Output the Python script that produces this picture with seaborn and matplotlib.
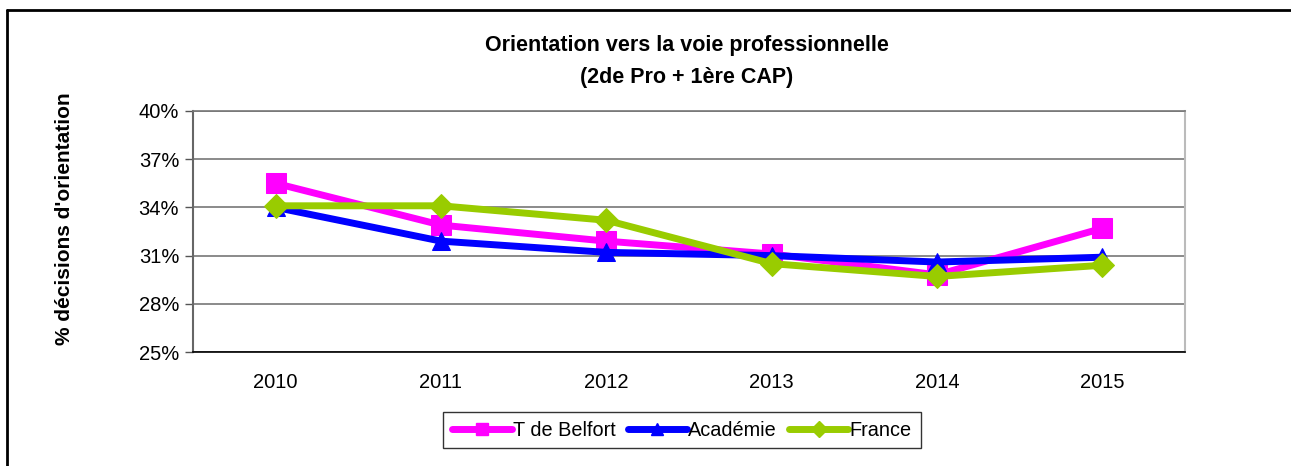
import numpy as np
import pandas as pd
import matplotlib
matplotlib.use("Agg")
import matplotlib.pyplot as plt
from matplotlib.ticker import FixedLocator, FuncFormatter
from matplotlib.lines import Line2D
import seaborn as sns

# data
years = ["2010", "2011", "2012", "2013", "2014", "2015"]
belfort = [35.5, 32.9, 31.9, 31.1, 29.8, 32.7]
academie = [34.0, 31.9, 31.2, 31.0, 30.6, 30.9]
france = [34.1, 34.1, 33.2, 30.5, 29.7, 30.4]
series_names = ["T de Belfort", "Académie", "France"]
y_ticks = [25, 28, 31, 34, 37, 40]

colors = {"T de Belfort": "#FF00FF", "Académie": "#0000FF", "France": "#99CC00"}
markers = {"T de Belfort": "s", "Académie": "^", "France": "D"}
msizes = {"T de Belfort": 14, "Académie": 13.5, "France": 12.5}

sns.set_style("white")
plt.rcParams['font.family'] = ['Liberation Sans', 'DejaVu Sans']
plt.rcParams['text.color'] = 'black'
plt.rcParams['axes.labelcolor'] = 'black'
plt.rcParams['xtick.color'] = 'black'
plt.rcParams['ytick.color'] = 'black'

df = pd.DataFrame({
    "x": list(range(len(years))) * 3,
    "value": belfort + academie + france,
    "serie": [series_names[0]] * 6 + [series_names[1]] * 6 + [series_names[2]] * 6,
})

fig = plt.figure(figsize=(12.91, 4.66), dpi=100)
ax = fig.add_axes([193 / 1291, 1 - 352 / 466, (1185 - 193) / 1291, (352 - 111) / 466])

for name in series_names:
    sub = df[df["serie"] == name]
    sns.lineplot(data=sub, x="x", y="value", ax=ax, color=colors[name],
                 linewidth=5, marker=markers[name], markersize=msizes[name],
                 markeredgecolor=colors[name], label=name, legend=False)

ax.set_xlim(-0.5, len(years) - 0.5)
ax.set_ylim(25, 40)

ax.yaxis.set_major_locator(FixedLocator(y_ticks))
ax.yaxis.set_major_formatter(FuncFormatter(lambda v, p: f"{v:.0f}%"))
ax.yaxis.grid(True, color="#777777", linewidth=1.2)
ax.set_axisbelow(True)

ax.set_xticks(range(len(years)))
ax.set_xticklabels(years)
ax.set_xticks(np.arange(-0.5, len(years), 1.0), minor=True)
ax.tick_params(axis="x", which="major", length=0, pad=15, labelsize=14.5)
ax.tick_params(axis="x", which="minor", length=6, width=1, color="black", direction="out")
ax.tick_params(axis="y", which="major", length=6, width=1, color="#555555",
               direction="out", labelsize=14.5, pad=4, left=True)

for side in ["left", "top", "right", "bottom"]:
    ax.spines[side].set_visible(True)
ax.spines["left"].set_color("#666666")
ax.spines["left"].set_linewidth(1.5)
ax.spines["bottom"].set_color("black")
ax.spines["bottom"].set_linewidth(1.2)
ax.spines["top"].set_color("#777777")
ax.spines["top"].set_linewidth(1.2)
ax.spines["right"].set_color("#bbbbbb")
ax.spines["right"].set_linewidth(1.5)

ax.set_xlabel("")
ax.set_ylabel("% décisions d'orientation", fontsize=15, fontweight="bold")
ax.yaxis.set_label_coords(-0.12, 0.555)

fig.text(687 / 1291, 1 - 45 / 466, "Orientation vers la voie professionnelle",
         ha="center", va="center", fontsize=15.5, fontweight="bold")
fig.text(687 / 1291, 1 - 78 / 466, "(2de Pro + 1ère CAP)",
         ha="center", va="center", fontsize=15.5, fontweight="bold")

handles = [Line2D([], [], color=colors[n], linewidth=5, marker=markers[n],
                  markersize=8, markeredgecolor=colors[n]) for n in series_names]
leg = fig.legend(handles, series_names, loc="center", bbox_to_anchor=(682 / 1291, 1 - 430 / 466),
                 ncol=3, fontsize=14.3, frameon=True, fancybox=False, handlelength=3.0,
                 handletextpad=0.05, columnspacing=0.6, borderpad=0.45)
leg.get_frame().set_edgecolor("black")
leg.get_frame().set_linewidth(1.0)

# outer chart frame (left and top visible)
fig.add_artist(Line2D([7 / 1291, 7 / 1291], [0, 1 - 10 / 466], transform=fig.transFigure,
                      color="black", linewidth=2))
fig.add_artist(Line2D([7 / 1291, 1], [1 - 10 / 466, 1 - 10 / 466], transform=fig.transFigure,
                      color="black", linewidth=2))

fig.savefig("out.png", dpi=100, facecolor="white")
